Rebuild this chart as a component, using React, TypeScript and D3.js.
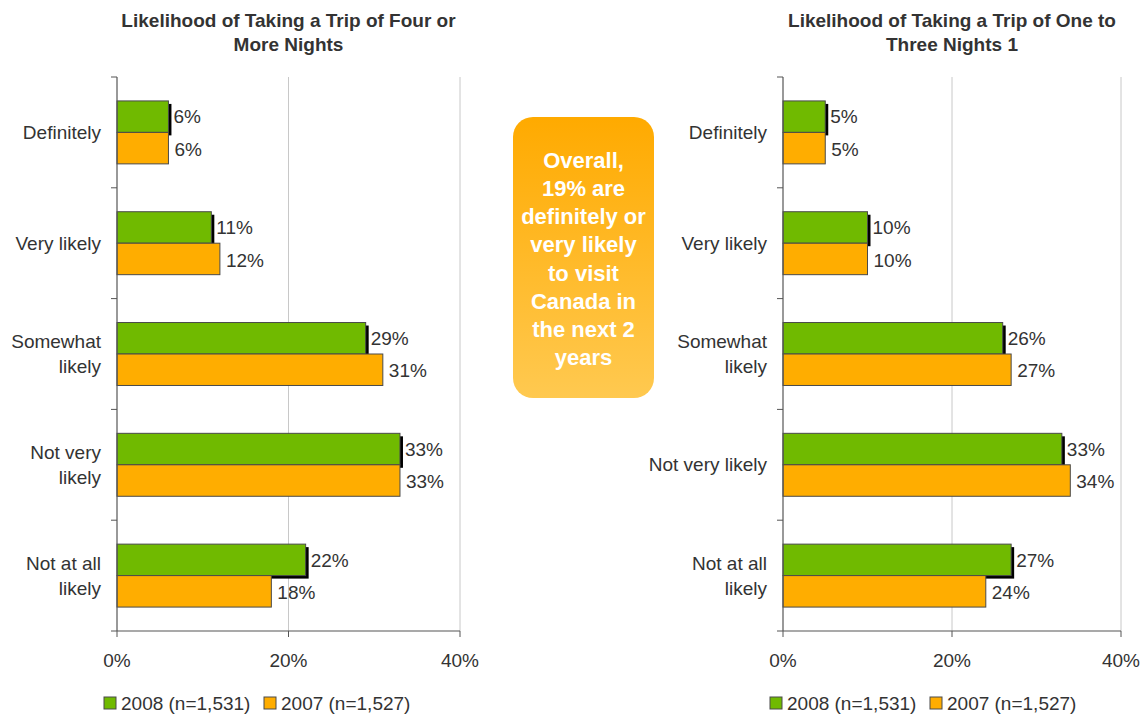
import React from 'react'
import * as d3 from 'd3'

const categories = ['Definitely', 'Very likely', 'Somewhat likely', 'Not very likely', 'Not at all likely']
const leftLabels = [['Definitely'], ['Very likely'], ['Somewhat', 'likely'], ['Not very', 'likely'], ['Not at all', 'likely']]
const rightLabels = [['Definitely'], ['Very likely'], ['Somewhat', 'likely'], ['Not very likely'], ['Not at all', 'likely']]

const fourPlus2008 = [6, 11, 29, 33, 22]
const fourPlus2007 = [6, 12, 31, 33, 18]
const oneToThree2008 = [5, 10, 26, 33, 27]
const oneToThree2007 = [5, 10, 27, 34, 24]

const xTicks = [0, 20, 40]
const seriesNames = ['2008 (n=1,531)', '2007 (n=1,527)']
const calloutLines = ['Overall,', '19% are', 'definitely or', 'very likely', 'to visit', 'Canada in', 'the next 2', 'years']

const GREEN = '#70BA00'
const ORANGE = '#FFAD00'
const TEXT = '#333333'
const FONT = '"Liberation Sans", Arial, sans-serif'
const FS = 19

interface PanelProps {
  x0: number
  x1: number
  title: string[]
  labels: string[][]
  a: number[]
  b: number[]
}

const top = 77
const bottom = 631

const Panel: React.FC<PanelProps> = ({ x0, x1, title, labels, a, b }) => {
  const x = d3.scaleLinear().domain([0, 40]).range([x0, x1])
  const y = d3.scaleBand().domain(categories).range([top, bottom])
  const inner = d3.scaleBand().domain(['a', 'b']).range([0, y.bandwidth()]).paddingOuter(0.76).paddingInner(0)
  const bh = inner.bandwidth()
  const cx = (x0 + x1) / 2

  return (
    <g>
      {title.map((t, i) => (
        <text key={i} x={cx} y={27 + i * 24} textAnchor="middle" fontSize={19} fontWeight="bold" fill={TEXT}>{t}</text>
      ))}
      {xTicks.slice(1).map(t => (
        <line key={t} x1={x(t)} x2={x(t)} y1={top} y2={bottom} stroke="#c8c8c8" strokeWidth={1} />
      ))}
      {categories.map((c, i) => {
        const by = y(c)!
        const ga = by + inner('a')!
        const gb = by + inner('b')!
        const lines = labels[i]
        const midY = by + y.bandwidth() / 2
        return (
          <g key={c}>
            <rect x={x0} y={ga + 3} width={x(a[i]) - x0 + 3} height={bh} fill="#000" />
            <rect x={x0} y={ga} width={x(a[i]) - x0} height={bh} fill={GREEN} stroke="#4a4a4a" strokeWidth={1} />
            <rect x={x0} y={gb} width={x(b[i]) - x0} height={bh} fill={ORANGE} stroke="#4a4a4a" strokeWidth={1} />
            <text x={x(a[i]) + 5} y={ga + bh / 2} dy="0.35em" fontSize={FS} fill={TEXT}>{a[i]}%</text>
            <text x={x(b[i]) + 6} y={gb + bh / 2 + 1} dy="0.35em" fontSize={FS} fill={TEXT}>{b[i]}%</text>
            {lines.map((l, j) => (
              <text key={j} x={x0 - 16} y={midY + (j - (lines.length - 1) / 2) * 25} dy="0.35em"
                textAnchor="end" fontSize={FS} fill={TEXT}>{l}</text>
            ))}
          </g>
        )
      })}
      {y.domain().map((c, i) => (
        <line key={i} x1={x0 - 6} x2={x0} y1={y(c)!} y2={y(c)!} stroke="#555" />
      ))}
      <line x1={x0 - 6} x2={x0} y1={bottom} y2={bottom} stroke="#555" />
      <line x1={x0} x2={x0} y1={top} y2={bottom} stroke="#555" strokeWidth={1.2} />
      <line x1={x0} x2={x1} y1={bottom} y2={bottom} stroke="#555" strokeWidth={1.2} />
      {xTicks.map(t => (
        <g key={t}>
          <line x1={x(t)} x2={x(t)} y1={bottom} y2={bottom + 6} stroke="#555" />
          <text x={x(t)} y={bottom + 36} textAnchor="middle" fontSize={FS} fill={TEXT}>{t}%</text>
        </g>
      ))}
      <g transform={`translate(${x0 - 13},${697})`}>
        <rect x={0} y={0} width={12} height={12} fill={GREEN} stroke="#4a4a4a" />
        <text x={17} y={6} dy="0.35em" fontSize={FS} fill={TEXT}>{seriesNames[0]}</text>
        <rect x={160} y={0} width={12} height={12} fill={ORANGE} stroke="#4a4a4a" />
        <text x={177} y={6} dy="0.35em" fontSize={FS} fill={TEXT}>{seriesNames[1]}</text>
      </g>
    </g>
  )
}

const App: React.FC = () => {
  return (
    <svg width={1141} height={715} style={{ position: 'absolute', left: 0, top: 0, fontFamily: FONT }}>
      <defs>
        <linearGradient id="callout" x1="0" y1="0" x2="0" y2="1">
          <stop offset="0%" stopColor="#FFAA00" />
          <stop offset="100%" stopColor="#FFC950" />
        </linearGradient>
      </defs>
      <rect width={1141} height={715} fill="#fff" />
      <Panel x0={117} x1={460} title={['Likelihood of Taking a Trip of Four or', 'More Nights']}
        labels={leftLabels} a={fourPlus2008} b={fourPlus2007} />
      <Panel x0={783} x1={1121} title={['Likelihood of Taking a Trip of One to', 'Three Nights 1']}
        labels={rightLabels} a={oneToThree2008} b={oneToThree2007} />
      <rect x={513} y={117} width={141} height={281} rx={20} fill="url(#callout)" />
      {calloutLines.map((l, i) => (
        <text key={i} x={583.5} y={160 + i * 28.2} dy="0.35em" textAnchor="middle" fontSize={22} fontWeight="bold" fill="#fff">{l}</text>
      ))}
    </svg>
  )
}

export default App
